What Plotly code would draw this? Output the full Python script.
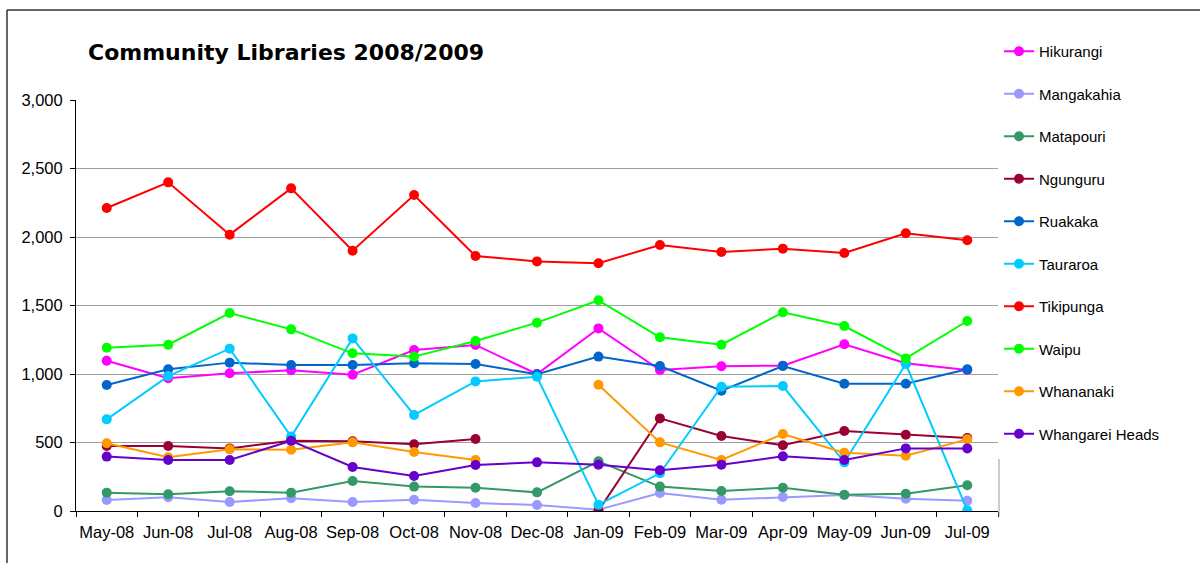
import plotly.graph_objects as go

months = ["May-08", "Jun-08", "Jul-08", "Aug-08", "Sep-08", "Oct-08", "Nov-08", "Dec-08",
          "Jan-09", "Feb-09", "Mar-09", "Apr-09", "May-09", "Jun-09", "Jul-09"]

hikurangi = [1097, 969, 1005, 1027, 995, 1175, 1212, 1000, 1333, 1029, 1056, 1061, 1217, 1078, 1029]
mangakahia = [80, 100, 66, 93, 66, 82, 58, 44, 10, 131, 82, 102, 117, 90, 75]
matapouri = [134, 122, 144, 134, 219, 178, 170, 136, 363, 178, 146, 170, 119, 126, 188]
ngunguru = [474, 474, 457, 513, 509, 487, 526, None, 2, 676, 547, 480, 584, 557, 533]
ruakaka = [920, 1034, 1083, 1066, 1066, 1078, 1073, 998, 1127, 1058, 878, 1058, 929, 929, 1034]
tauraroa = [669, 985, 1185, 543, 1260, 701, 946, 980, 46, 275, 907, 912, 355, 1073, 5]
tikipunga = [2212, 2399, 2017, 2355, 1900, 2306, 1861, 1822, 1808, 1942, 1891, 1915, 1883, 2027, 1976]
waipu = [1192, 1214, 1445, 1326, 1151, 1127, 1241, 1375, 1538, 1268, 1214, 1450, 1350, 1114, 1387]
whananaki = [494, 392, 450, 447, 501, 431, 372, None, 922, 501, 372, 562, 426, 404, 523]
whangarei_heads = [397, 372, 372, 513, 321, 255, 336, 355, 338, 297, 338, 399, 372, 457, 457]

series = [
    ("Hikurangi", hikurangi, "#FF00FF"),
    ("Mangakahia", mangakahia, "#9999FF"),
    ("Matapouri", matapouri, "#339966"),
    ("Ngunguru", ngunguru, "#990033"),
    ("Ruakaka", ruakaka, "#0066CC"),
    ("Tauraroa", tauraroa, "#00CCFF"),
    ("Tikipunga", tikipunga, "#FF0000"),
    ("Waipu", waipu, "#00FF00"),
    ("Whananaki", whananaki, "#FF9900"),
    ("Whangarei Heads", whangarei_heads, "#6600CC"),
]

fig = go.Figure()
for name, vals, col in series:
    fig.add_trace(go.Scatter(
        x=months, y=vals, name=name, mode="lines+markers",
        line=dict(color=col, width=2),
        marker=dict(color=col, size=10, symbol="circle"),
        connectgaps=False, legendgroup=name,
    ))

L, R, T, B = 76, 998, 100, 511
W, H = 1200, 563
pw, ph = R - L, B - T

def px(x):
    return (x - L) / pw

def py(y):
    return (B - y) / ph

fig.update_layout(
    width=W, height=H,
    margin=dict(l=L, r=W - R, t=T, b=H - B, pad=0, autoexpand=False),
    paper_bgcolor="white", plot_bgcolor="white",
    font=dict(family="Liberation Sans, Arial, sans-serif", size=16, color="#000000"),
    title=dict(text="<b>Community Libraries 2008/2009</b>", x=88 / W, xanchor="left",
               xref="container", y=1 - 52 / H, yanchor="middle", yref="container",
               font=dict(family="DejaVu Sans, Verdana, sans-serif", size=22, color="#000000")),
    showlegend=True,
    legend=dict(x=px(999), xanchor="left", y=py(35), yanchor="top",
                font=dict(size=15, family="Liberation Sans, Arial, sans-serif"),
                tracegroupgap=20, traceorder="grouped", bgcolor="rgba(0,0,0,0)",
                itemwidth=30, maxheight=600),
    xaxis=dict(type="category", showgrid=False, showline=True, linecolor="#000000", linewidth=1,
               ticks="outside", ticklen=5, tickcolor="#000000", tickson="boundaries",
               range=[-0.5, len(months) - 0.5], tickfont=dict(size=16.5), ticklabelstandoff=6,
               tickangle=0, automargin=False),
    yaxis=dict(range=[0, 3000], tickvals=[0, 500, 1000, 1500, 2000, 2500, 3000], tickformat=",",
               showgrid=True, gridcolor="#A0A0A0", gridwidth=1, showline=True,
               linecolor="#000000", linewidth=1, ticks="outside", ticklen=5, tickcolor="#000000",
               zeroline=False, tickfont=dict(size=16.5), ticklabelstandoff=4, automargin=False),
    shapes=[
        dict(type="line", xref="paper", yref="paper", x0=px(7), x1=px(1200), y0=py(10), y1=py(10),
             line=dict(color="#333333", width=1.5)),
        dict(type="line", xref="paper", yref="paper", x0=px(7), x1=px(7), y0=py(10), y1=py(563),
             line=dict(color="#333333", width=1.5)),
        dict(type="line", xref="paper", yref="paper", x0=px(999), x1=px(999), y0=py(459), y1=py(516),
             line=dict(color="#999999", width=1)),
    ],
)

fig.write_html("out.html", config={"displayModeBar": False},
               post_script="document.body.style.margin='0';document.body.style.overflow='hidden';"
                           "document.documentElement.style.overflow='hidden';")
